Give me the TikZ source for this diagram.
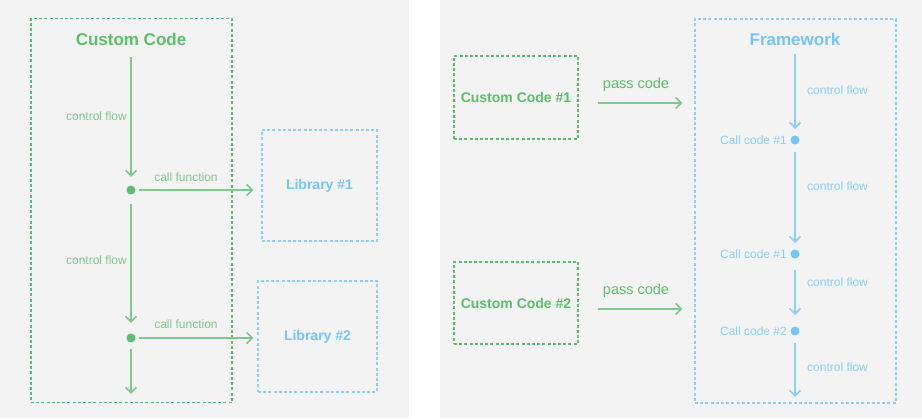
\documentclass[tikz,border=0pt]{standalone}
\usepackage{fontspec}
\setmainfont{Liberation Sans}
\usetikzlibrary{arrows.meta}
\definecolor{panelgrey}{HTML}{F3F3F3}
\definecolor{gdark}{HTML}{5CBF6B}
\definecolor{glight}{HTML}{7DC98A}
\definecolor{bdark}{HTML}{74C5FA}
\definecolor{blight}{HTML}{8CCFF9}
\tikzset{
  gbox/.style={draw=gdark, line width=1.3pt, dash pattern=on 3pt off 2.2pt, inner sep=0pt},
  bbox/.style={draw=blight, line width=1.3pt, dash pattern=on 3pt off 2.2pt, inner sep=0pt},
  boxlabel/.style={font=\fontsize{14}{16}\selectfont\bfseries, inner sep=0pt},
  title/.style={font=\fontsize{17}{19}\selectfont\bfseries, inner sep=0pt},
  small/.style={font=\fontsize{12}{14}\selectfont, inner sep=0pt},
  passlabel/.style={font=\fontsize{14.5}{16}\selectfont, text=gdark, inner sep=0pt},
  gdot/.style={circle, fill=gdark, minimum size=9pt, inner sep=0pt},
  bdot/.style={circle, fill=bdark, minimum size=9pt, inner sep=0pt},
  flow/.style={line width=1.8pt, -{Straight Barb[length=5.5pt,width=11pt,line width=1.6pt]}},
}
\begin{document}
\begin{tikzpicture}[x=1pt,y=-1pt]
\useasboundingbox (0,0) rectangle (922,419);
% panels
\fill[white] (0,0) rectangle (922,419);
\fill[panelgrey] (0,0) rectangle (409,418);
\fill[panelgrey] (440,0) rectangle (922,418);

% ---------- left: library style ----------
\node[gbox, minimum width=201pt, minimum height=384pt] (ccbox) at (131.4,210.7) {};
\node[title, text=gdark] (cc) at (131,39) {Custom Code};
\node[gdot] (d1) at (131,190) {};
\node[gdot] (d2) at (131,338) {};
\coordinate (e1) at (131,394);

\node[bbox, minimum width=115pt, minimum height=111pt, boxlabel, text=bdark] (lib1) at (319.5,185.5) {Library \#1};
\node[bbox, minimum width=119pt, minimum height=111pt, boxlabel, text=bdark] (lib2) at (317.5,336.5) {Library \#2};

\draw[flow, glight, shorten <=18pt, shorten >=13pt] (cc.center) -- (d1.center);
\draw[flow, glight, shorten <=14pt, shorten >=15pt] (d1.center) -- (d2.center);
\draw[flow, glight, shorten <=11pt] (d2.center) -- (e1);
\draw[flow, glight, shorten <=8pt, shorten >=8pt] (d1.center) -- (d1.center -| lib1.west);
\draw[flow, glight, shorten <=8pt, shorten >=4pt] (d2.center) -- (d2.center -| lib2.west);

\node[small, text=glight, anchor=east] (cf1) at (127,116) {control flow};
\node[small, text=glight, anchor=east] (cf2) at (127,260) {control flow};
\node[small, text=glight] (call1) at (186,177) {call function};
\node[small, text=glight] (call2) at (186,324) {call function};

% ---------- right: framework style ----------
\node[gbox, minimum width=124pt, minimum height=83pt, boxlabel, text=gdark] (cc1) at (516,97.5) {Custom Code \#1};
\node[gbox, minimum width=124pt, minimum height=82pt, boxlabel, text=gdark] (cc2) at (516,303) {Custom Code \#2};
\node[bbox, minimum width=201pt, minimum height=384pt] (fwbox) at (795.5,211) {};
\node[title, text=bdark] (fw) at (795,39) {Framework};

\draw[flow, glight, shorten <=19pt, shorten >=12pt] (cc1.east |- 0,103) -- (fwbox.west |- 0,103);
\draw[flow, glight, shorten <=19pt, shorten >=12pt] (cc2.east |- 0,309) -- (fwbox.west |- 0,309);
\node[passlabel] (pc1) at (636,85) {pass code};
\node[passlabel] (pc2) at (636,291) {pass code};

\node[bdot] (r1) at (795,140) {};
\node[bdot] (r2) at (795,254) {};
\node[bdot] (r3) at (795,331) {};
\coordinate (r4) at (795,397);

\draw[flow, blight, shorten <=15pt, shorten >=11pt] (fw.center) -- (r1.center);
\draw[flow, blight, shorten <=12pt, shorten >=11pt] (r1.center) -- (r2.center);
\draw[flow, blight, shorten <=16pt, shorten >=16pt] (r2.center) -- (r3.center);
\draw[flow, blight, shorten <=12pt] (r3.center) -- (r4);

\node[small, text=blight, anchor=west] (fc1) at (807,90) {control flow};
\node[small, text=blight, anchor=west] (fc2) at (807,186) {control flow};
\node[small, text=blight, anchor=west] (fc3) at (807,282) {control flow};
\node[small, text=blight, anchor=west] (fc4) at (807,367) {control flow};

\node[small, text=blight, anchor=east] (k1) at (787,140) {Call code \#1};
\node[small, text=blight, anchor=east] (k2) at (787,254) {Call code \#1};
\node[small, text=blight, anchor=east] (k3) at (787,331) {Call code \#2};
\end{tikzpicture}
\end{document}
